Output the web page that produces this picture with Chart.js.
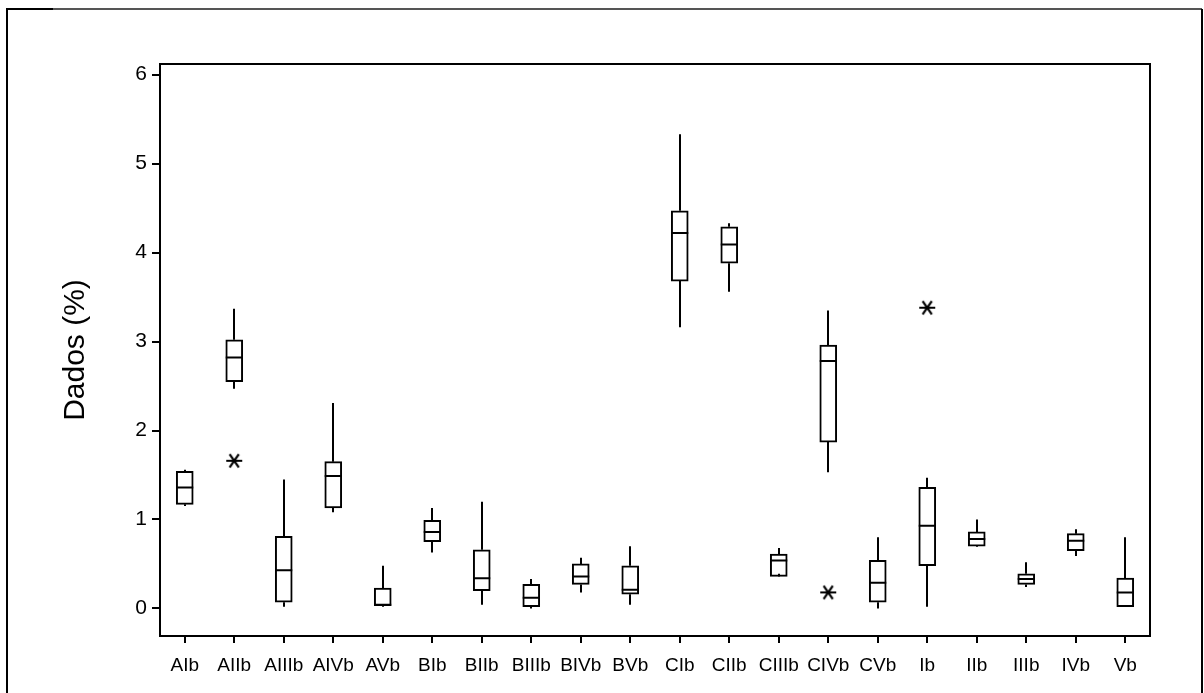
<!DOCTYPE html>
<html>
<head>
<meta charset="utf-8">
<script src="https://cdn.jsdelivr.net/npm/chart.js@4"></script>
<style>
  html, body { margin: 0; padding: 0; background: #fff; }
  #wrap { width: 1204px; height: 693px; position: relative; }
</style>
</head>
<body>
<div id="wrap"><canvas id="c" width="1204" height="693"></canvas></div>
<script>
// box plot data
const categories = ['AIb','AIIb','AIIIb','AIVb','AVb','BIb','BIIb','BIIIb','BIVb','BVb','CIb','CIIb','CIIIb','CIVb','CVb','Ib','IIb','IIIb','IVb','Vb'];
const whiskLo = [1.15, 2.47, 0.02, 1.08, 0.02, 0.63, 0.04, 0.00, 0.18, 0.04, 3.16, 3.56, 0.39, 1.53, 0.00, 0.02, 0.69, 0.24, 0.59, 0.02];
const q1      = [1.17, 2.55, 0.07, 1.13, 0.03, 0.75, 0.20, 0.02, 0.27, 0.16, 3.68, 3.88, 0.36, 1.87, 0.07, 0.48, 0.70, 0.27, 0.65, 0.02];
const medians = [1.36, 2.82, 0.43, 1.49, 0.04, 0.86, 0.34, 0.12, 0.36, 0.21, 4.22, 4.09, 0.54, 2.78, 0.29, 0.93, 0.78, 0.33, 0.76, 0.18];
const q3      = [1.54, 3.02, 0.81, 1.65, 0.23, 0.99, 0.66, 0.27, 0.50, 0.48, 4.47, 4.29, 0.61, 2.96, 0.54, 1.36, 0.86, 0.39, 0.84, 0.34];
const whiskHi = [1.56, 3.37, 1.45, 2.31, 0.48, 1.13, 1.20, 0.33, 0.57, 0.70, 5.33, 4.33, 0.68, 3.35, 0.80, 1.47, 1.00, 0.52, 0.89, 0.80];
const outlierCats = ['AIIb', 'CIVb', 'Ib'];
const outlierVals = [1.66, 0.18, 3.38];
const yTicks = [0, 1, 2, 3, 4, 5, 6];

const FONT = '"Liberation Sans", Arial, sans-serif';

function asterisk(r){
  const c = document.createElement('canvas');
  c.width = c.height = 2*r + 4;
  const g = c.getContext('2d'), m = r + 2;
  g.strokeStyle = '#000'; g.lineWidth = 2.2;
  g.beginPath();
  g.moveTo(m - r, m); g.lineTo(m + r, m);
  [55, 125].forEach(d => {
    const a = d*Math.PI/180;
    g.moveTo(m + r*Math.cos(a), m - r*Math.sin(a));
    g.lineTo(m - r*Math.cos(a), m + r*Math.sin(a));
  });
  g.stroke();
  return c;
}

const boxParts = {
  id: 'boxParts',
  beforeDraw(chart){
    const ctx = chart.ctx;
    ctx.save();
    ctx.lineWidth = 2;
    ctx.strokeStyle = '#000';
    ctx.beginPath();
    ctx.moveTo(7, 693); ctx.lineTo(7, 9); ctx.lineTo(53, 9);
    ctx.stroke();
    ctx.strokeStyle = '#555';
    ctx.beginPath();
    ctx.moveTo(53, 9); ctx.lineTo(1202, 9);
    ctx.stroke();
    ctx.strokeStyle = '#000';
    ctx.beginPath();
    ctx.moveTo(1202, 9); ctx.lineTo(1202, 693);
    ctx.stroke();
    ctx.restore();
  },
  afterDatasetsDraw(chart){
    const {ctx, scales: {x, y}, chartArea: a} = chart;
    const bars = chart.getDatasetMeta(0).data;
    ctx.save();
    ctx.strokeStyle = '#000';
    ctx.lineWidth = 2;
    ctx.beginPath();
    categories.forEach((c, i) => {
      const px = Math.round(x.getPixelForValue(i));
      ctx.moveTo(px, y.getPixelForValue(whiskLo[i])); ctx.lineTo(px, y.getPixelForValue(q1[i]));
      ctx.moveTo(px, y.getPixelForValue(q3[i])); ctx.lineTo(px, y.getPixelForValue(whiskHi[i]));
      const hw = bars[i].width / 2, my = y.getPixelForValue(medians[i]);
      ctx.moveTo(bars[i].x - hw, my); ctx.lineTo(bars[i].x + hw, my);
    });
    ctx.stroke();
    ctx.strokeRect(a.left, a.top, a.width, a.height);
    ctx.restore();
  }
};

new Chart(document.getElementById('c'), {
  type: 'bar',
  data: {
    labels: categories,
    datasets: [
      {
        data: categories.map((c, i) => [q1[i], q3[i]]),
        backgroundColor: '#fff',
        borderColor: '#000',
        borderWidth: 2,
        borderSkipped: false,
        barThickness: 17
      },
      {
        type: 'line',
        data: outlierCats.map((c, i) => ({x: c, y: outlierVals[i]})),
        showLine: false,
        pointStyle: asterisk(8),
        pointRadius: 8
      }
    ]
  },
  options: {
    responsive: false,
    devicePixelRatio: 1,
    animation: false,
    layout: { padding: { left: 0, top: 64, right: 54, bottom: 0 } },
    plugins: { legend: { display: false }, tooltip: { enabled: false } },
    scales: {
      x: {
        offset: true,
        grid: { display: true, drawOnChartArea: false, drawTicks: true, tickLength: 7, color: '#000', lineWidth: 2, offset: false },
        border: { display: true, color: '#000', width: 2 },
        ticks: { color: '#000', font: { family: FONT, size: 19 }, padding: 11, autoSkip: false, maxRotation: 0 },
        afterFit: s => { s.height = 57; }
      },
      y: {
        min: -0.31,
        max: 6.12,
        afterBuildTicks: s => { s.ticks = yTicks.map(v => ({value: v})); },
        grid: { display: true, drawOnChartArea: false, drawTicks: true, tickLength: 8, color: '#000', lineWidth: 2 },
        border: { display: true, color: '#000', width: 2 },
        ticks: { color: '#000', font: { family: FONT, size: 21 }, padding: 5 },
        title: { display: true, text: 'Dados (%)', color: '#000', font: { family: FONT, size: 30, weight: 'normal' }, padding: { top: 58 } },
        afterFit: s => { s.width = 160; }
      }
    }
  },
  plugins: [boxParts]
});
</script>
</body>
</html>
